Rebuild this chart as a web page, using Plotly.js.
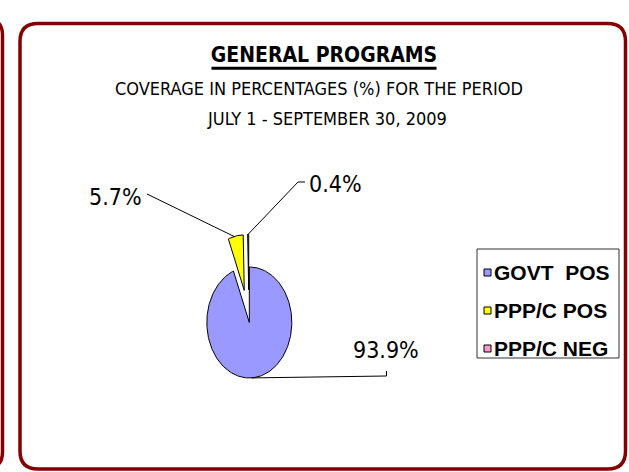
<!DOCTYPE html>
<html><head><meta charset="utf-8">
<script src="https://cdn.plot.ly/plotly-3.0.1.min.js"></script>
<style>html,body{margin:0;padding:0;background:#fff;}#chart{width:629px;height:472px;}</style>
</head><body><div id="chart"></div>
<script>
// ---- data ----
const categories = ['GOVT  POS', 'PPP/C POS', 'PPP/C NEG'];
const shares = [93.9, 5.7, 0.4];
const valueLabels = ['93.9%', '5.7%', '0.4%'];
const titleText = 'GENERAL PROGRAMS';
const subtitleLines = ['COVERAGE IN PERCENTAGES (%) FOR THE PERIOD', 'JULY 1 - SEPTEMBER 30, 2009'];

// ---- styling / layout ----
const sliceColors = ['#9999FF', '#FFFF00', '#FF99CC'];
const pullOut = [0.04, 0.55, 0.55];
const PIE = {cx: 249, cy: 320.3, rx: 42.5, ry: 55.5};
const NARROW = '"DejaVu Sans Condensed", "Liberation Sans", sans-serif';
const WIDE = '"Liberation Sans", Arial, sans-serif';
const FRAME = '#840000';
// label text positions and leader-line start points (label side)
const labelPos = [[386, 350], [115, 197], [335, 184]];
const leaderStart = [[[386.5, 371], [386.5, 376]], [[147, 194]], [[305, 182], [298, 182]]];
const leaderAngleFrac = [0.5, 0.4, 0.5]; // where on the slice the line lands
const leaderAngleAbs = [Math.PI * 177 / 180, null, null];

const total = shares.reduce((a, b) => a + b, 0);
function pt(theta, off) {
  return [PIE.cx + off[0] + PIE.rx * Math.sin(theta), PIE.cy + off[1] - PIE.ry * Math.cos(theta)];
}

const traces = [];
const shapes = [];
const annotations = [];
let cum = 0;
shares.forEach((v, i) => {
  const a0 = 2 * Math.PI * cum / total, a1 = 2 * Math.PI * (cum + v) / total;
  cum += v;
  const mid = (a0 + a1) / 2;
  const off = [pullOut[i] * PIE.rx * Math.sin(mid), -pullOut[i] * PIE.ry * Math.cos(mid)];
  const n = Math.max(2, Math.ceil((a1 - a0) / (2 * Math.PI) * 240));
  const xs = [PIE.cx + off[0]], ys = [PIE.cy + off[1]];
  for (let k = 0; k <= n; k++) {
    const p = pt(a0 + (a1 - a0) * k / n, off);
    xs.push(p[0]); ys.push(p[1]);
  }
  xs.push(PIE.cx + off[0]); ys.push(PIE.cy + off[1]);
  traces.push({type: 'scatter', mode: 'lines', x: xs, y: ys, fill: 'toself',
    fillcolor: sliceColors[i], line: {color: '#000', width: 1},
    name: categories[i], showlegend: false, hoverinfo: 'name+text', text: valueLabels[i]});
  // leader line
  const ang = leaderAngleAbs[i] !== null ? leaderAngleAbs[i] : a0 + (a1 - a0) * leaderAngleFrac[i];
  const end = pt(ang, off);
  const ptsL = leaderStart[i].concat([end]);
  shapes.push({type: 'path', xref: 'x', yref: 'y', layer: 'above',
    path: 'M' + ptsL.map(p => p[0] + ',' + p[1]).join('L'),
    line: {color: '#000', width: 1}});
  annotations.push({x: labelPos[i][0], y: labelPos[i][1], xref: 'x', yref: 'y',
    text: valueLabels[i], showarrow: false, xanchor: 'center', yanchor: 'middle',
    font: {family: NARROW, size: 23, color: '#000'}});
});

// frames (rounded rectangles)
function rrect(x0, y0, x1, y1, r) {
  return `M${x0 + r},${y0} H${x1 - r} Q${x1},${y0} ${x1},${y0 + r} V${y1 - r} Q${x1},${y1} ${x1 - r},${y1} H${x0 + r} Q${x0},${y1} ${x0},${y1 - r} V${y0 + r} Q${x0},${y0} ${x0 + r},${y0} Z`;
}
shapes.push({type: 'path', xref: 'x', yref: 'y', layer: 'below', path: rrect(20, 23.5, 625.5, 469, 18), line: {color: FRAME, width: 3.5}});
shapes.push({type: 'path', xref: 'x', yref: 'y', layer: 'below', path: rrect(-300, 19, 2.5, 468, 16), line: {color: FRAME, width: 3.5}});

// title underline
shapes.push({type: 'line', xref: 'x', yref: 'y', x0: 211.5, x1: 436.5, y0: 68.3, y1: 68.3, line: {color: '#000', width: 3}});

// legend (box, swatches, labels)
shapes.push({type: 'rect', xref: 'x', yref: 'y', x0: 477, x1: 619, y0: 249, y1: 358, line: {color: '#333', width: 1}, fillcolor: 'rgba(0,0,0,0)'});
categories.forEach((c, i) => {
  const cy = 272.5 + 38 * i;
  shapes.push({type: 'rect', xref: 'x', yref: 'y', x0: 484, x1: 491, y0: cy - 3.5, y1: cy + 3.5, fillcolor: sliceColors[i], line: {color: '#000', width: 1}});
  annotations.push({x: 492, y: cy, xref: 'x', yref: 'y', text: '<b>' + c.replace(/ /g, '&nbsp;') + '</b>',
    showarrow: false, xanchor: 'left', yanchor: 'middle', font: {family: WIDE, size: 21, color: '#000'}});
});

// subtitles
annotations.push({x: 319, y: 88, xref: 'x', yref: 'y', text: subtitleLines[0], showarrow: false, xanchor: 'center', yanchor: 'middle', font: {family: NARROW, size: 18, color: '#000'}});
annotations.push({x: 326.7, y: 118, xref: 'x', yref: 'y', text: subtitleLines[1], showarrow: false, xanchor: 'center', yanchor: 'middle', font: {family: NARROW, size: 18, color: '#000'}});

const layout = {
  width: 629, height: 472,
  margin: {l: 0, r: 0, t: 0, b: 0, pad: 0},
  paper_bgcolor: '#fff', plot_bgcolor: '#fff',
  title: {text: '<b>' + titleText + '</b>', x: 324 / 629, xanchor: 'center', y: 1 - 55 / 472, yanchor: 'middle', yref: 'container',
    font: {family: NARROW, size: 21, color: '#000'}},
  xaxis: {range: [0, 629], visible: false, fixedrange: true},
  yaxis: {range: [472, 0], visible: false, fixedrange: true},
  showlegend: false,
  shapes: shapes,
  annotations: annotations,
  hovermode: 'closest'
};
Plotly.newPlot('chart', traces, layout, {displayModeBar: false, staticPlot: true});
</script></body></html>
